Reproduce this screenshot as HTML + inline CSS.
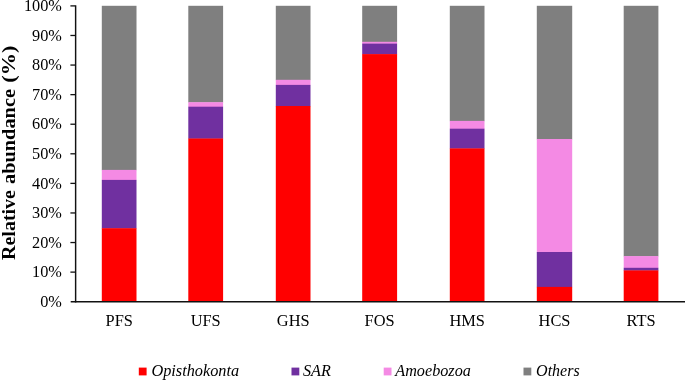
<!DOCTYPE html>
<html><head><meta charset="utf-8"><title>Relative abundance</title>
<style>
html,body{margin:0;padding:0;background:#fff;}
body{width:685px;height:380px;overflow:hidden;}
svg{display:block;}
text{font-family:"Liberation Serif",serif;fill:#000;}
.yl{font-size:16.3px;text-anchor:end;}
.xl{font-size:16.4px;text-anchor:middle;}
.lg{font-size:16.2px;font-style:italic;}
.ti{font-size:18.67px;font-weight:bold;}
</style></head><body>
<svg width="685" height="380" viewBox="0 0 685 380">
<rect x="0" y="0" width="685" height="380" fill="#fff"/>

<rect x="101.8" y="5.8" width="34.7" height="164.4" fill="#7F7F7F"/>
<rect x="101.8" y="169.9" width="34.7" height="10.3" fill="#F48AE4"/>
<rect x="101.8" y="179.9" width="34.7" height="48.6" fill="#7030A0"/>
<rect x="101.8" y="228.2" width="34.7" height="72.8" fill="#FF0000"/>
<text class="xl" x="119.2" y="325.7">PFS</text>
<rect x="188.3" y="5.8" width="34.8" height="96.7" fill="#7F7F7F"/>
<rect x="188.3" y="102.2" width="34.8" height="4.8" fill="#F48AE4"/>
<rect x="188.3" y="106.7" width="34.8" height="32.1" fill="#7030A0"/>
<rect x="188.3" y="138.5" width="34.8" height="162.5" fill="#FF0000"/>
<text class="xl" x="205.7" y="325.7">UFS</text>
<rect x="275.8" y="5.8" width="34.7" height="74.3" fill="#7F7F7F"/>
<rect x="275.8" y="79.8" width="34.7" height="5.4" fill="#F48AE4"/>
<rect x="275.8" y="84.9" width="34.7" height="21.4" fill="#7030A0"/>
<rect x="275.8" y="106.0" width="34.7" height="195.0" fill="#FF0000"/>
<text class="xl" x="293.2" y="325.7">GHS</text>
<rect x="362.2" y="5.8" width="34.9" height="36.3" fill="#7F7F7F"/>
<rect x="362.2" y="41.8" width="34.9" height="2.1" fill="#F48AE4"/>
<rect x="362.2" y="43.6" width="34.9" height="10.8" fill="#7030A0"/>
<rect x="362.2" y="54.1" width="34.9" height="246.9" fill="#FF0000"/>
<text class="xl" x="379.6" y="325.7">FOS</text>
<rect x="449.8" y="5.8" width="34.7" height="115.4" fill="#7F7F7F"/>
<rect x="449.8" y="120.9" width="34.7" height="8.1" fill="#F48AE4"/>
<rect x="449.8" y="128.7" width="34.7" height="20.0" fill="#7030A0"/>
<rect x="449.8" y="148.4" width="34.7" height="152.6" fill="#FF0000"/>
<text class="xl" x="467.2" y="325.7">HMS</text>
<rect x="536.8" y="5.8" width="35.4" height="133.5" fill="#7F7F7F"/>
<rect x="536.8" y="139.0" width="35.4" height="113.3" fill="#F48AE4"/>
<rect x="536.8" y="252.0" width="35.4" height="35.2" fill="#7030A0"/>
<rect x="536.8" y="286.9" width="35.4" height="14.1" fill="#FF0000"/>
<text class="xl" x="554.5" y="325.7">HCS</text>
<rect x="623.7" y="5.8" width="34.7" height="250.6" fill="#7F7F7F"/>
<rect x="623.7" y="256.1" width="34.7" height="12.0" fill="#F48AE4"/>
<rect x="623.7" y="267.8" width="34.7" height="2.9" fill="#7030A0"/>
<rect x="623.7" y="270.4" width="34.7" height="30.6" fill="#FF0000"/>
<text class="xl" x="641.1" y="325.7">RTS</text>
<rect x="74.9" y="5.3" width="1.45" height="297.2" fill="#111"/>
<rect x="70.7" y="301.0" width="614.3" height="1.5" fill="#111"/>
<text class="yl" x="61.9" y="306.9">0%</text>
<rect x="70.4" y="271.47" width="5" height="1.3" fill="#111"/>
<text class="yl" x="61.9" y="277.3">10%</text>
<rect x="70.4" y="241.89" width="5" height="1.3" fill="#111"/>
<text class="yl" x="61.9" y="247.7">20%</text>
<rect x="70.4" y="212.31" width="5" height="1.3" fill="#111"/>
<text class="yl" x="61.9" y="218.2">30%</text>
<rect x="70.4" y="182.73" width="5" height="1.3" fill="#111"/>
<text class="yl" x="61.9" y="188.6">40%</text>
<rect x="70.4" y="153.15" width="5" height="1.3" fill="#111"/>
<text class="yl" x="61.9" y="159.0">50%</text>
<rect x="70.4" y="123.57" width="5" height="1.3" fill="#111"/>
<text class="yl" x="61.9" y="129.4">60%</text>
<rect x="70.4" y="93.99" width="5" height="1.3" fill="#111"/>
<text class="yl" x="61.9" y="99.8">70%</text>
<rect x="70.4" y="64.41" width="5" height="1.3" fill="#111"/>
<text class="yl" x="61.9" y="70.3">80%</text>
<rect x="70.4" y="34.83" width="5" height="1.3" fill="#111"/>
<text class="yl" x="61.9" y="40.7">90%</text>
<rect x="70.4" y="5.25" width="5" height="1.3" fill="#111"/>
<text class="yl" x="61.9" y="11.1">100%</text>
<text class="ti" transform="translate(14.6,0) rotate(-90)"><tspan x="-260.0" textLength="70.0" lengthAdjust="spacingAndGlyphs">Relative</tspan> <tspan x="-184.0" textLength="95.0" lengthAdjust="spacingAndGlyphs">abundance</tspan> <tspan x="-82.7" textLength="37.0" lengthAdjust="spacingAndGlyphs">(%)</tspan></text>
<rect x="138.8" y="367.6" width="7.8" height="7.8" fill="#FF0000"/>
<text class="lg" style="font-size:16.3px" x="151.4" y="376.2">Opisthokonta</text>
<rect x="291.5" y="367.6" width="7.8" height="7.8" fill="#7030A0"/>
<text class="lg" style="font-size:16.2px" x="303.0" y="376.2">SAR</text>
<rect x="383.7" y="367.6" width="7.8" height="7.8" fill="#F48AE4"/>
<text class="lg" style="font-size:16.2px" x="395.3" y="376.2">Amoebozoa</text>
<rect x="523.5" y="367.6" width="7.8" height="7.8" fill="#7F7F7F"/>
<text class="lg" style="font-size:16.0px" x="536.1" y="376.2">Others</text>
</svg></body></html>
